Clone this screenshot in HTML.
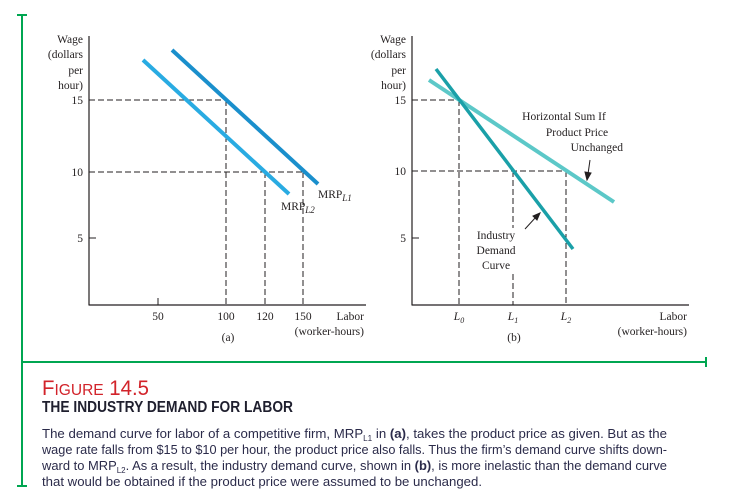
<!DOCTYPE html>
<html><head><meta charset="utf-8"><style>
html,body{margin:0;padding:0;background:#fff;}
svg{display:block;}
.s{font-family:"Liberation Serif",serif;font-size:11.5px;fill:#231f20;}
.b{font-family:"Liberation Sans Narrow","Liberation Sans",sans-serif;font-size:13px;fill:#2b2b4a;}
</style></head><body>
<svg width="745" height="492" viewBox="0 0 745 492" xmlns="http://www.w3.org/2000/svg">
<g stroke="#00a651" stroke-width="2" fill="none">
<line x1="22" y1="15" x2="22" y2="487"/>
<line x1="17" y1="15" x2="27" y2="15"/>
<line x1="17" y1="486" x2="27" y2="486"/>
<line x1="22" y1="362" x2="706" y2="362"/>
<line x1="706" y1="357" x2="706" y2="367"/>
</g>
<g stroke="#231f20" fill="none">
<line x1="89" y1="36" x2="89" y2="305.5" stroke-width="1.2"/>
<line x1="89" y1="305" x2="366" y2="305" stroke-width="1.2"/>
<line x1="89" y1="238" x2="96" y2="238"/>
<line x1="158" y1="298" x2="158" y2="305"/>
<g stroke-dasharray="6,3" stroke-width="1">
<line x1="89" y1="100" x2="226" y2="100"/>
<line x1="226" y1="100" x2="226" y2="305"/>
<line x1="89" y1="172" x2="303" y2="172"/>
<line x1="265" y1="172" x2="265" y2="305"/>
<line x1="303" y1="172" x2="303" y2="305"/>
</g>
</g>
<line x1="172" y1="50" x2="318" y2="184" stroke="#1a8fcc" stroke-width="4"/>
<line x1="143" y1="60" x2="289" y2="194" stroke="#29abe2" stroke-width="4"/>
<g class="s" text-anchor="end">
<text x="83" y="43">Wage</text>
<text x="83" y="58">(dollars</text>
<text x="83" y="74">per</text>
<text x="83" y="89">hour)</text>
<text x="83" y="104">15</text>
<text x="83" y="176">10</text>
<text x="83" y="242">5</text>
<text x="364" y="320">Labor</text>
<text x="364" y="335">(worker-hours)</text>
</g>
<g class="s" text-anchor="middle">
<text x="158" y="320">50</text>
<text x="226" y="320">100</text>
<text x="265" y="320">120</text>
<text x="303" y="320">150</text>
<text x="228" y="341">(a)</text>
</g>
<text class="s" x="318" y="198">MRP<tspan font-style="italic" font-size="9" dy="3">L1</tspan></text>
<text class="s" x="281" y="210">MRP<tspan font-style="italic" font-size="9" dy="3">L2</tspan></text>
<g stroke="#231f20" fill="none">
<line x1="412" y1="36" x2="412" y2="305.5" stroke-width="1.2"/>
<line x1="412" y1="305" x2="689" y2="305" stroke-width="1.2"/>
<line x1="412" y1="238" x2="419" y2="238"/>
<g stroke-dasharray="6,3" stroke-width="1">
<line x1="412" y1="100" x2="459" y2="100"/>
<line x1="459" y1="100" x2="459" y2="305"/>
<line x1="412" y1="171" x2="566" y2="171"/>
<line x1="513" y1="171" x2="513" y2="228"/>
<line x1="513" y1="274" x2="513" y2="305"/>
<line x1="566" y1="171" x2="566" y2="305"/>
</g>
</g>
<line x1="429" y1="80" x2="614" y2="202" stroke="#5cc8c8" stroke-width="4"/>
<line x1="436" y1="69" x2="573" y2="249" stroke="#1aa0a8" stroke-width="3.5"/>
<g stroke="#231f20" stroke-width="1" fill="#231f20">
<line x1="590" y1="160" x2="588" y2="174"/>
<polygon points="587,180 585,172 591,173"/>
<line x1="525" y1="229" x2="536" y2="217"/>
<polygon points="540,213 533,216 537,220"/>
</g>
<g class="s" text-anchor="end">
<text x="406" y="43">Wage</text>
<text x="406" y="58">(dollars</text>
<text x="406" y="74">per</text>
<text x="406" y="89">hour)</text>
<text x="406" y="104">15</text>
<text x="406" y="175">10</text>
<text x="406" y="242">5</text>
<text x="687" y="320">Labor</text>
<text x="687" y="335">(worker-hours)</text>
<text x="623" y="151">Unchanged</text>
</g>
<g class="s" text-anchor="middle">
<text x="564" y="120">Horizontal Sum If</text>
<text x="577" y="136">Product Price</text>
<text x="496" y="239">Industry</text>
<text x="496" y="254">Demand</text>
<text x="496" y="269">Curve</text>
<text x="514" y="341">(b)</text>
<text x="459" y="320" font-style="italic">L<tspan font-size="8" dy="3">0</tspan></text>
<text x="513" y="320" font-style="italic">L<tspan font-size="8" dy="3">1</tspan></text>
<text x="566" y="320" font-style="italic">L<tspan font-size="8" dy="3">2</tspan></text>
</g>
<text x="42" y="395" font-family="Liberation Sans, sans-serif" font-size="21" fill="#d2232a" textLength="107" lengthAdjust="spacingAndGlyphs">F<tspan font-size="16">IGURE</tspan> 14.5</text>
<text x="42" y="412" font-family="Liberation Sans, sans-serif" font-size="15.5" font-weight="bold" fill="#1f1f2e" textLength="251" lengthAdjust="spacingAndGlyphs">THE INDUSTRY DEMAND FOR LABOR</text>
<text class="b" x="42" y="438" textLength="625" lengthAdjust="spacingAndGlyphs">The demand curve for labor of a competitive firm, MRP<tspan font-size="8" dy="3">L1</tspan><tspan dy="-3"> in </tspan><tspan font-weight="bold">(a)</tspan>, takes the product price as given. But as the</text>
<text class="b" x="42" y="454" textLength="625" lengthAdjust="spacingAndGlyphs">wage rate falls from $15 to $10 per hour, the product price also falls. Thus the firm’s demand curve shifts down-</text>
<text class="b" x="42" y="470" textLength="625" lengthAdjust="spacingAndGlyphs">ward to MRP<tspan font-size="8" dy="3">L2</tspan><tspan dy="-3">. As a result, the industry demand curve, shown in </tspan><tspan font-weight="bold">(b)</tspan>, is more inelastic than the demand curve</text>
<text class="b" x="42" y="486" textLength="440" lengthAdjust="spacingAndGlyphs">that would be obtained if the product price were assumed to be unchanged.</text>
</svg>
</body></html>
